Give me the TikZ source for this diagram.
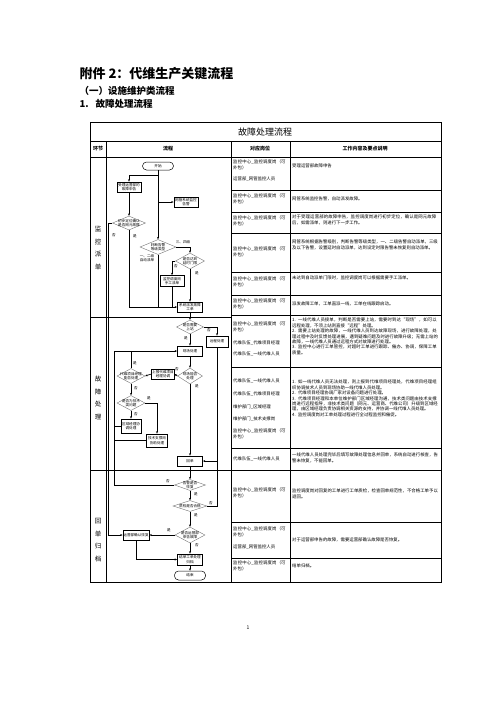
\documentclass[tikz,border=0pt]{standalone}
\usepackage{fontspec}
\setmainfont{Noto Sans CJK SC}
\XeTeXlinebreaklocale "zh"
\XeTeXlinebreakskip = 0pt plus 0.5pt
\usetikzlibrary{shapes.geometric, arrows.meta}

\newcommand{\cellfont}{\fontsize{4.4}{5.4}\selectfont}
\newcommand{\chartfont}{\fontsize{3.6}{4.3}\selectfont}

\tikzset{
  procbox/.style={draw, line width=0.8pt, minimum width=24pt, minimum height=10pt, inner sep=0.4pt, align=center, font=\chartfont},
  decbox/.style={diamond, draw=black!55, line width=0.4pt, inner sep=0pt},
  decfont/.style={font=\chartfont, align=center, inner sep=0pt},
  termbox/.style={draw, line width=0.5pt, rounded corners=4pt, minimum width=31pt, minimum height=8pt, inner sep=0pt, font=\chartfont},
  flow/.style={line width=0.7pt, -{Stealth[length=2.4pt, width=2pt]}},
  link/.style={line width=0.7pt},
  tag/.style={font=\chartfont, inner sep=0pt},
  stagetext/.style={align=center, font=\fontsize{6.5}{12.5}\selectfont},
  posttext/.style={anchor=north west, text width=55pt, align=left, font=\cellfont, inner sep=0pt},
  celltext/.style={anchor=north west, text width=146pt, align=left, font=\cellfont, inner sep=0pt},
  tabline/.style={line width=0.6pt},
}

\begin{document}
\begin{tikzpicture}[x=1pt, y=-1pt]
    \useasboundingbox (0,0) rectangle (496,702);

    % Headings
    \node[anchor=west, font=\fontsize{13}{15}\selectfont\bfseries] (maintitle) at (76,74) {附件 2：代维生产关键流程};
    \node[anchor=west, font=\fontsize{9.5}{11}\selectfont\bfseries] (subtitle) at (76,91) {（一）设施维护类流程};
    \node[anchor=west, font=\fontsize{9.5}{11}\selectfont\bfseries] (sectitle) at (76,104) {1.\hspace{7pt}故障处理流程};

    % Table frame
    \draw[tabline, line width=0.8pt] (90,122) rectangle (441,582);
    \draw[tabline] (90,141) -- (441,141);
    \draw[tabline] (90,157) -- (441,157);
    \draw[tabline] (106,141) -- (106,582);
    \draw[tabline] (231,141) -- (231,582);
    \draw[tabline] (290,141) -- (290,582);
    \draw[tabline] (90,317) -- (231,317);
    \draw[tabline] (90,470) -- (231,470);
    \foreach \y in {190,212,233,272,295,315,367,448,470,522,558}
        \draw[tabline] (231,\y) -- (441,\y);

    \node[font=\fontsize{9}{10}\selectfont] (tabtitle) at (265,132) {故障处理流程};
    \node[font=\fontsize{5}{6}\selectfont\bfseries] (hstage) at (98,149) {环节};
    \node[font=\fontsize{5}{6}\selectfont\bfseries] (hflow) at (168,149) {流程};
    \node[font=\fontsize{5}{6}\selectfont\bfseries] (hpost) at (260,149) {对应岗位};
    \node[font=\fontsize{5}{6}\selectfont\bfseries] (hwork) at (365,149) {工作内容及要点说明};

    % Stages
    \node[stagetext] (stage1) at (98,248) {监\\控\\派\\单};
    \node[stagetext] (stage2) at (98,398) {故\\障\\处\\理};
    \node[stagetext] (stage3) at (98,540) {回\\单\\归\\档};

    % Flow chart: dispatch
    \node[termbox] (start) at (158,166) {开始};
    \node[procbox] (apply) at (129,187) {受理运营部的\\故障申告};
    \node[procbox] (alarm) at (186,202) {网管系统监控\\告警};
    \node[decbox, minimum width=33pt, minimum height=14pt, label={[decfont]center:{初步定位确认\\是否网元故障}}] (d1) at (129,223) {};
    \node[decbox, minimum width=36pt, minimum height=15pt, label={[decfont]center:{判断告警\\等级类型}}] (d2) at (158,247) {};
    \node[decbox, minimum width=29pt, minimum height=16pt, label={[decfont]center:{是否达到\\延时门限}}] (d3) at (190,261) {};
    \node[procbox, minimum height=11pt] (manual) at (172,281) {监控调度岗\\手工派单};
    \node[procbox, minimum width=25pt] (dispatch) at (190,307) {系统派发故障\\工单};

    % Flow chart: handling
    \node[decbox, minimum width=27pt, minimum height=14pt, label={[decfont]center:{是否需要\\上站}}] (d4) at (190,327) {};
    \node[procbox, minimum width=22pt, minimum height=11pt] (remote) at (217,341.5) {远程处理};
    \node[procbox, minimum width=25pt] (site) at (190,351) {现场处理};
    \node[decbox, minimum width=25pt, minimum height=16pt, label={[decfont]center:{现场能否\\处理}}] (d5) at (190,376) {};
    \node[procbox, minimum width=22pt] (pm) at (163,374) {上报代维项目\\经理协调};
    \node[decbox, minimum width=28pt, minimum height=15pt, label={[decfont]center:{代维项目经理\\能否处理}}] (d6) at (131,376) {};
    \node[decbox, minimum width=28pt, minimum height=15pt, label={[decfont]center:{是否为技术\\类问题}}] (d7) at (131,403) {};
    \node[procbox, minimum width=20pt, minimum height=14pt] (area) at (131,426) {区域经理协\\调处理};
    \node[procbox, minimum width=21pt, minimum height=13pt] (tech) at (157,440.5) {技术支撑岗\\协助处理};
    \node[procbox, minimum width=25pt] (reply) at (190,461) {回单};
    \coordinate (loop) at (114,351);

    % Flow chart: archive
    \node[decbox, minimum width=31pt, minimum height=11pt, label={[decfont]center:{告警是否\\恢复}}] (d8) at (190,485) {};
    \node[decbox, minimum width=34pt, minimum height=11pt, label={[decfont]center:{质检是否合格}}] (d9) at (190,506) {};
    \node[decbox, minimum width=30pt, minimum height=16pt, label={[decfont]center:{是否运营部\\申告故障}}] (d10) at (190,535) {};
    \node[procbox] (confirm) at (136,535) {运营部确认恢复};
    \node[procbox, minimum width=25pt, minimum height=11pt] (archive) at (190,559.5) {结单工单处理\\归档};
    \node[termbox, minimum height=9pt] (finish) at (190,575.5) {结束};

    % Connectors
    \draw[flow] (start.south) -- ++(0,5) -| (apply.north);
    \draw[flow] (start.south) -- (d2.north);
    \draw[flow] (start.south |- alarm) -- (alarm.west);
    \draw[flow] (apply) -- (d1);
    \draw[flow] (d1.west) -- ++(-3.5,0) |- (confirm.west);
    \draw[flow] (d1.south) |- (dispatch.west);
    \draw[link] (d2.south) -- (d2.south |- dispatch);
    \draw[flow] (d2.east) -| (d3.north);
    \draw[flow] (d3.west) -| (manual.north);
    \draw[link] (manual.south) -- (manual.south |- dispatch);
    \draw[flow] (d3) -- (dispatch);
    \draw[flow] (dispatch) -- (d4);
    \draw[flow] (d4.east) -| (remote.north);
    \draw[flow] (d4) -- (site);
    \draw[flow] (site) -- (d5);
    \draw[flow] (d5.west) -- (pm.east);
    \draw[flow] (pm.west) -- (d6.east);
    \draw[link] (d6.north) -- (d6.north |- site);
    \draw[flow] (d6) -- (d7);
    \draw[flow] (d7.east) -| (tech.north);
    \draw[flow] (d7) -- (area);
    \draw[link] (area.west) -- (area.west -| loop);
    \draw[link] (tech.west) -- (tech.west -| loop);
    \draw[flow] (d8.west) -| (loop) -- (site.west);
    \draw[flow] (d5) -- (reply);
    \draw[flow] (remote.south) |- (reply.east);
    \draw[flow] (reply) -- (d8);
    \draw[flow] (d8) -- (d9);
    \draw[link] (d9.east) -| (remote.south |- reply);
    \draw[flow] (d9) -- (d10);
    \draw[flow] (d10.west) -- (confirm.east);
    \draw[flow] (d10) -- (archive);
    \draw[flow] (confirm.south) |- (archive.west);
    \draw[flow] (archive) -- (finish);

    % Branch labels
    \node[tag] (t1no) at (114,235) {否};
    \node[tag] (t1yes) at (135,236) {是};
    \node[tag] (t2hi) at (183,242) {三、四级};
    \node[tag, align=center] (t2lo) at (147,258) {一、二级\\自动派单};
    \node[tag] (t3no) at (176,266) {否};
    \node[tag] (t3yes) at (197,273) {是};
    \node[tag] (t4no) at (209,330) {否};
    \node[tag] (t4yes) at (186,338) {是};
    \node[tag] (t5no) at (177,369) {否};
    \node[tag] (t5yes) at (197,386) {是};
    \node[tag] (t6yes) at (135,363) {是};
    \node[tag] (t6no) at (136,388) {否};
    \node[tag] (t7yes) at (149,398) {是};
    \node[tag] (t7no) at (136,414) {否};
    \node[tag] (t8no) at (168,481) {否};
    \node[tag] (t8yes) at (196,494) {是};
    \node[tag] (t9no) at (211,503) {否};
    \node[tag] (t9yes) at (196,515) {是};
    \node[tag] (t10yes) at (169,530) {是};
    \node[tag] (t10no) at (197,545) {否};

    % Posts
    \node[posttext] (p1a) at (233,160) {监控中心\_监控调度岗（可外包）};
    \node[posttext] (p1b) at (233,177) {运营部\_网管监控人员};
    \node[posttext] (p2) at (233,194) {监控中心\_监控调度岗（可外包）};
    \node[posttext] (p3) at (233,216) {监控中心\_监控调度岗（可外包）};
    \node[posttext] (p4) at (233,247) {监控中心\_监控调度岗（可外包）};
    \node[posttext] (p5) at (233,277) {监控中心\_监控调度岗（可外包）};
    \node[posttext] (p6) at (233,299) {监控中心\_监控调度岗（可外包）};
    \node[posttext] (p7a) at (233,322) {监控中心\_监控调度岗（可外包）};
    \node[posttext] (p7b) at (233,341) {代维队伍\_代维项目经理};
    \node[posttext] (p7c) at (233,352) {代维队伍\_一线代维人员};
    \node[posttext] (p8a) at (233,379) {代维队伍\_一线代维人员};
    \node[posttext] (p8b) at (233,392) {代维队伍\_代维项目经理};
    \node[posttext] (p8c) at (233,405) {维护部门\_区域经理};
    \node[posttext] (p8d) at (233,417) {维护部门\_技术支撑岗};
    \node[posttext] (p8e) at (233,429) {监控中心\_监控调度岗（可外包）};
    \node[posttext] (p9) at (233,457) {代维队伍\_一线代维人员};
    \node[posttext] (p10) at (233,488) {监控中心\_监控调度岗（可外包）};
    \node[posttext] (p11a) at (233,527) {监控中心\_监控调度岗（可外包）};
    \node[posttext] (p11b) at (233,545) {运营部\_网管监控人员};
    \node[posttext] (p12) at (233,561) {监控中心\_监控调度岗（可外包）};

    % Work content
    \node[celltext] (w1) at (292,164) {受理运营部故障申告};
    \node[celltext] (w2) at (292,197) {网管系统监控告警，自动派发故障。};
    \node[celltext] (w3) at (292,215) {对于受理运营部的故障申告，监控调度岗进行初步定位，确认是网元故障后，如需派单，则进行下一步工作。};
    \node[celltext] (w4) at (292,240) {网管系统根据告警级别，判断告警等级类型，一、二级告警自动派单，三级及以下告警，设置延时自动派单，达到设定时限告警未恢复则自动派单。};
    \node[celltext] (w5) at (292,276) {未达到自动派单门限时，监控调度岗可以根据需要手工派单。};
    \node[celltext] (w6) at (292,302) {派发故障工单，工单直派一线，工单在线跟踪启动。};
    \node[celltext] (w7) at (292,318) {1. 一线代维人员接单，判断是否需要上站，需要时到达“现场”，如可以远程处理，不须上站则直接“远程”处理。\\
        2. 需要上站处理的故障，一线代维人员到达故障现场，进行故障处理，处理过程中及时反馈处理进展，遇到疑难问题及时进行故障升级；无需上站的故障，一线代维人员通过远程方式对故障进行处理。\\
        3. 监控中心进行工单管控，对超时工单进行跟踪、催办、协调，保障工单质量。};
    \node[celltext] (w8) at (292,380) {1. 如一线代维人员无法处理，则上报到代维项目经理处，代维项目经理组织协调技术人员到现场协助一线代维人员处理。\\
        2. 代维项目经理协调厂家对设备问题进行处理。\\
        3. 代维项目经理和本单位维护部门区域经理沟通，技术类问题由技术支撑岗进行远程指导，非技术类问题（网元、运营商、代维公司）升级到区域经理，由区域经理负责协调相关资源的支持，并协调一线代维人员处理。\\
        4. 监控调度岗对工单处理过程进行全过程监控和催促。};
    \node[celltext] (w9) at (292,453) {一线代维人员处理完毕后填写故障处理信息并回单，系统自动进行核查，告警未恢复，不能回单。};
    \node[celltext] (w10) at (292,489) {监控调度岗对回复的工单进行工单质检，检查回单规范性，不合格工单予以退回。};
    \node[celltext] (w11) at (292,538) {对于运营部申告的故障，需要运营部确认故障是否恢复。};
    \node[celltext] (w12) at (292,564) {结单归档。};

    \node[font=\fontsize{5}{6}\selectfont] (pagenum) at (248,628) {1};
\end{tikzpicture}
\end{document}
